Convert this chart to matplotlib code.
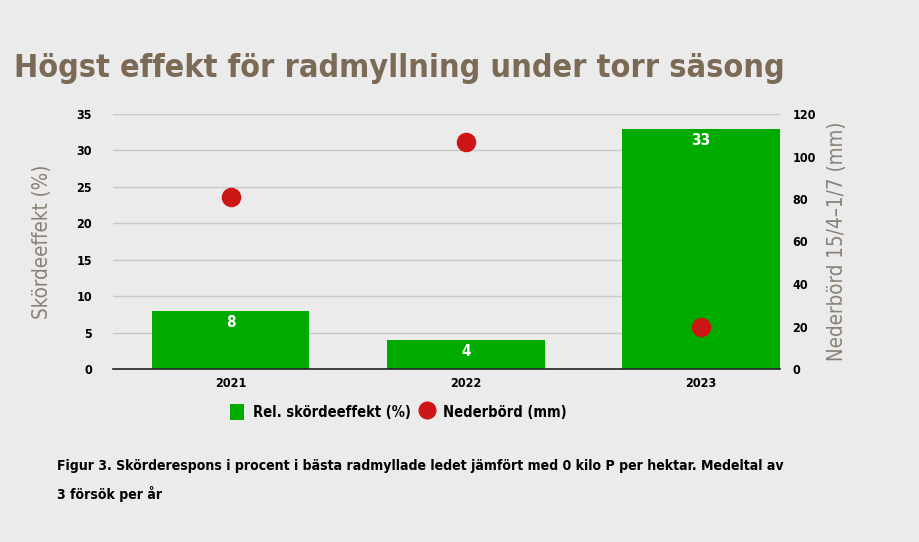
import numpy as np
import matplotlib.pyplot as plt
from matplotlib.lines import Line2D
from matplotlib.patches import Patch

# data
years = ['2021', '2022', '2023']
skordeeffekt = [8, 4, 33]          # %
nederbord = [81, 107, 20]          # mm

bg = '#ebebeb'
green = '#00ab00'
red = '#cc1515'
brown = '#7b6a56'
grey_lbl = '#8a8076'

plt.rcParams['font.family'] = ['DejaVu Sans']
plt.rcParams['font.stretch'] = 'condensed'

fig = plt.figure(figsize=(9.19, 5.42), dpi=100, facecolor=bg)
ax = fig.add_axes([113/919, 1 - 369/542, (780-113)/919, (369-114)/542])
ax.set_facecolor(bg)

x = np.arange(len(years))
bars = ax.bar(x, skordeeffekt, width=0.67, color=green, zorder=2)
for b, v in zip(bars, skordeeffekt):
    ax.text(b.get_x() + b.get_width()/2, v - 0.6, str(v), ha='center', va='top',
            color='white', fontsize=11, fontweight='bold', zorder=3)

ax.set_ylim(0, 35)
ax.set_yticks(range(0, 36, 5))
ax.set_xlim(-0.5, 2.335)
ax.set_xticks(x)
ax.set_xticklabels(years)
ax.grid(axis='y', color='#c8c8c8', linewidth=1, zorder=0)
for s in ['top', 'right', 'left']:
    ax.spines[s].set_visible(False)
ax.spines['bottom'].set_color('#222222')
ax.spines['bottom'].set_linewidth(1.2)
ax.tick_params(axis='both', length=0, labelsize=9)
ax.tick_params(axis='y', pad=15)
ax.tick_params(axis='x', pad=6)
for t in ax.get_xticklabels() + ax.get_yticklabels():
    t.set_fontweight('bold')
ax.set_ylabel('Skördeeffekt (%)', fontsize=14.8, color=grey_lbl, labelpad=18)

ax2 = ax.twinx()
ax2.scatter(x, nederbord, s=170, color=red, zorder=4)
ax2.set_ylim(0, 120)
ax2.set_yticks(range(0, 121, 20))
for s in ax2.spines.values():
    s.set_visible(False)
ax2.tick_params(axis='y', length=0, labelsize=9, pad=9)
for t in ax2.get_yticklabels():
    t.set_fontweight('bold')
ax2.set_ylabel('Nederbörd 15/4–1/7 (mm)', fontsize=14.8, color=grey_lbl, labelpad=8)

fig.text(14/919, 1 - 68/542, 'Högst effekt för radmyllning under torr säsong',
         fontsize=23.2, fontweight='bold', color=brown, va='center', ha='left')

handles = [Patch(facecolor=green, edgecolor='none'),
           Line2D([], [], marker='o', linestyle='none', color=red, markersize=12)]
fig.legend(handles, ['Rel. skördeeffekt (%)', 'Nederbörd (mm)'], loc='center',
           bbox_to_anchor=(398/919, 1 - 412/542), ncol=2, frameon=False,
           prop={'size': 10.5, 'weight': 'bold'}, handlelength=1.0, handleheight=1.4,
           handletextpad=0.6, columnspacing=0.6)

fig.text(57/919, 1 - 466/542,
         'Figur 3. Skörderespons i procent i bästa radmyllade ledet jämfört med 0 kilo P per hektar. Medeltal av',
         fontsize=10.1, fontweight='bold', va='center', ha='left')
fig.text(57/919, 1 - 494/542, '3 försök per år',
         fontsize=10.1, fontweight='bold', va='center', ha='left')

fig.savefig('out.png', dpi=100, facecolor=bg)
